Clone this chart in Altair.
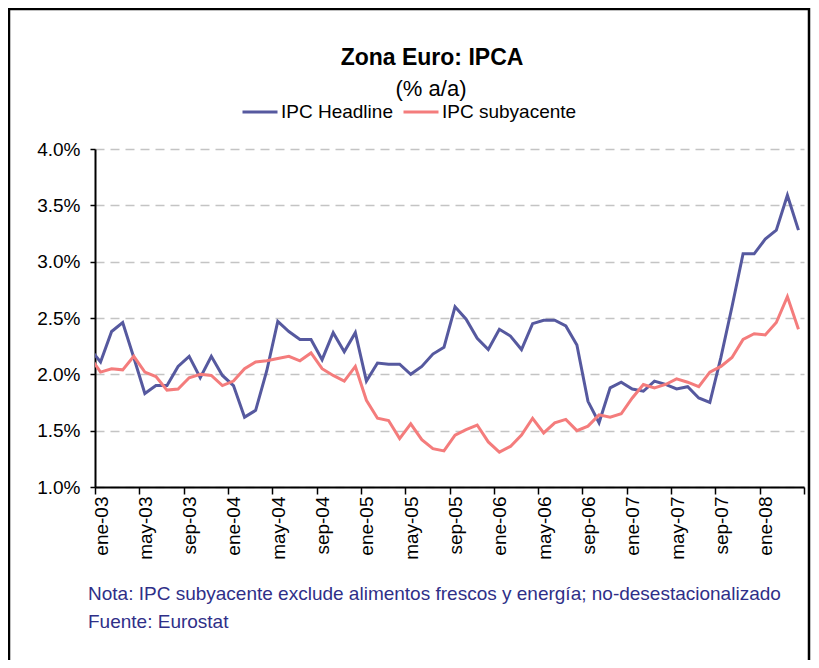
import json
import altair as alt
import pandas as pd

# ---------------- data ----------------
meses = ["ene", "feb", "mar", "abr", "may", "jun", "jul", "ago", "sep", "oct", "nov", "dic"]
months = ["dic-02"] + [f"{m}-{y:02d}" for y in range(3, 9) for m in meses][:64]

headline = [
    2.23,
    2.11, 2.38, 2.46, 2.15, 1.83, 1.90, 1.90, 2.07, 2.16, 1.97, 2.16, 1.99,
    1.90, 1.62, 1.68, 2.03, 2.47, 2.38, 2.31, 2.31, 2.13, 2.37, 2.20, 2.37,
    1.94, 2.10, 2.09, 2.09, 2.00, 2.07, 2.18, 2.24, 2.60, 2.49, 2.32, 2.22,
    2.40, 2.34, 2.22, 2.45, 2.48, 2.48, 2.43, 2.26, 1.76, 1.57, 1.88, 1.93,
    1.87, 1.85, 1.94, 1.91, 1.87, 1.89, 1.79, 1.75, 2.15, 2.60, 3.07, 3.07,
    3.20, 3.28, 3.59, 3.28,
]
subyacente = [
    2.16,
    2.02, 2.05, 2.04, 2.16, 2.02, 1.98, 1.86, 1.87, 1.97, 2.00, 1.99, 1.90,
    1.94, 2.05, 2.11, 2.12, 2.14, 2.16, 2.12, 2.19, 2.05, 1.99, 1.94, 2.07,
    1.77, 1.61, 1.59, 1.43, 1.56, 1.42, 1.34, 1.32, 1.46, 1.51, 1.55, 1.40,
    1.31, 1.36, 1.46, 1.61, 1.48, 1.57, 1.60, 1.50, 1.54, 1.64, 1.62, 1.65,
    1.79, 1.91, 1.88, 1.91, 1.96, 1.93, 1.89, 2.02, 2.07, 2.15, 2.31, 2.36,
    2.35, 2.46, 2.69, 2.40,
]

tick_labels = ["ene-03", "may-03", "sep-03", "ene-04", "may-04", "sep-04",
               "ene-05", "may-05", "sep-05", "ene-06", "may-06", "sep-06",
               "ene-07", "may-07", "sep-07", "ene-08", ""]
y_ticks = [1.0, 1.5, 2.0, 2.5, 3.0, 3.5, 4.0]
series_names = ["IPC Headline", "IPC subyacente"]
series_colors = ["#56599f", "#f47c7c"]
title_text = "Zona Euro: IPCA"
subtitle_text = "(% a/a)"
notes = ["Nota: IPC subyacente exclude alimentos frescos y energía; no-desestacionalizado",
         "Fuente: Eurostat"]

FONT = "Liberation Sans"

# ---------------- table ----------------
rows = []
for i, m in enumerate(months):
    pos = i - 0.5  # point in the middle of its month slot
    rows.append({"mes": m, "pos": pos, "serie": series_names[0], "valor": headline[i]})
    rows.append({"mes": m, "pos": pos, "serie": series_names[1], "valor": subyacente[i]})
df = pd.DataFrame(rows)

n_slots = len(months) - 1  # 64 monthly slots, ene-03 .. abr-08

label_expr = json.dumps(tick_labels) + "[round(datum.value / 4)]"

lines = alt.Chart(df).mark_line(strokeWidth=3, clip=True).encode(
    x=alt.X(
        "pos:Q",
        title=None,
        scale=alt.Scale(domain=[0, n_slots], nice=False, zero=False),
        axis=alt.Axis(
            values=list(range(0, n_slots + 1, 4)),
            labelExpr=label_expr,
            labelAngle=-90,
            labelOffset=6,
            labelPadding=2,
            tickSize=7,
            grid=False,
            labelOverlap=False,
            labelFlush=False,
        ),
    ),
    y=alt.Y(
        "valor:Q",
        title=None,
        scale=alt.Scale(domain=[1.0, 4.0], nice=False, zero=False),
        axis=alt.Axis(
            values=y_ticks,
            labelExpr="format(datum.value, '.1f') + '%'",
            tickSize=5,
            labelPadding=10,
            grid=True,
            gridDash=[9, 6],
            gridColor="#c4c4c4",
            gridWidth=1.5,
        ),
    ),
    color=alt.Color(
        "serie:N",
        scale=alt.Scale(domain=series_names, range=series_colors),
        legend=alt.Legend(
            title=None,
            orient="none",
            legendX=146,
            legendY=-56,
            direction="horizontal",
            symbolType="stroke",
            symbolSize=1225,
            symbolStrokeWidth=3,
            labelFont=FONT,
            labelFontSize=19,
            labelColor="black",
            labelOffset=2,
            columnPadding=4,
            padding=0,
        ),
    ),
)

title_layer = alt.Chart(pd.DataFrame({"t": [title_text]})).mark_text(
    align="center", baseline="alphabetic", fontSize=23, font=FONT,
    fontWeight="bold", color="black",
).encode(text="t:N", x=alt.value(337), y=alt.value(-84))

subtitle_layer = alt.Chart(pd.DataFrame({"t": [subtitle_text]})).mark_text(
    align="center", baseline="alphabetic", fontSize=22, font=FONT, color="black",
).encode(text="t:N", x=alt.value(336), y=alt.value(-53))

notes_layer = alt.Chart(pd.DataFrame({"t": ["\n".join(notes)]})).mark_text(
    align="left", baseline="alphabetic", fontSize=19, font=FONT,
    color="#2f2f88", lineBreak="\n", lineHeight=28,
).encode(text="t:N", x=alt.value(-7), y=alt.value(451))

frame = alt.Chart(pd.DataFrame({"a": [0]})).mark_rect(
    fill=None, stroke="black", strokeWidth=2.5, clip=False
).encode(x=alt.value(-86), x2=alt.value(714), y=alt.value(-140), y2=alt.value(560))

chart = alt.layer(frame, lines, title_layer, subtitle_layer, notes_layer).properties(
    width=709,
    height=338,
    autosize=alt.AutoSizeParams(type="none"),
    padding={"left": 87, "top": 141, "right": 7, "bottom": 173},
).configure_view(stroke=None).configure_axis(
    domainColor="black",
    domainWidth=2,
    tickColor="black",
    tickWidth=1.5,
    labelFont=FONT,
    labelFontSize=19,
    labelColor="black",
)

chart.save("out.html", embed_options={"renderer": "svg", "actions": False})
